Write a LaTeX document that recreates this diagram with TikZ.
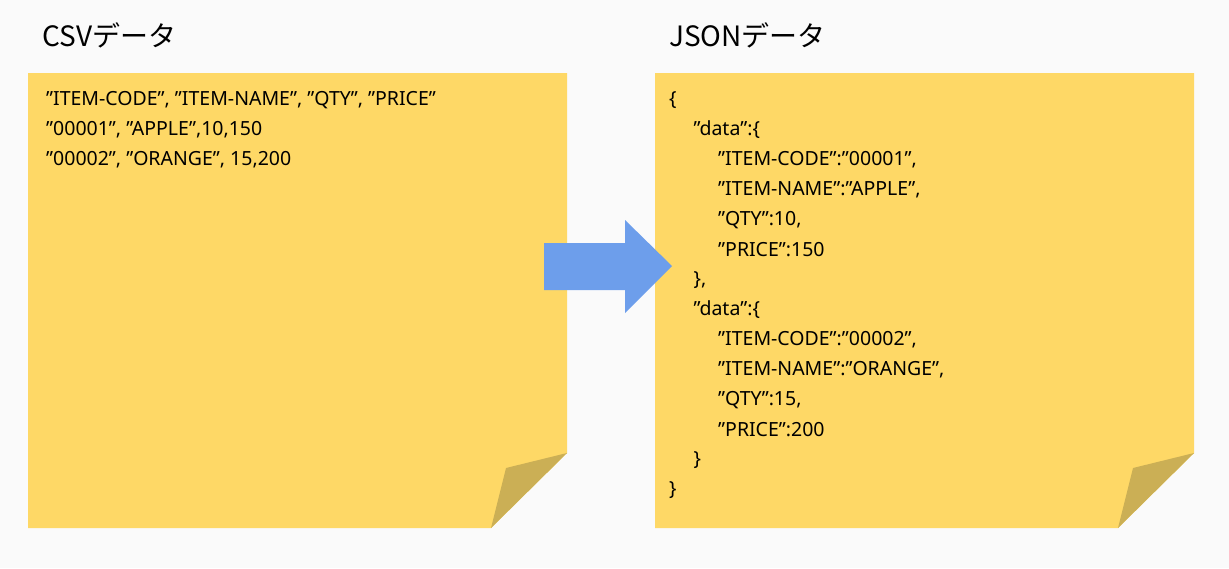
\documentclass[tikz,border=0pt]{standalone}
\usepackage{fontspec}
\setmainfont{Noto Sans}
\newfontfamily\cjk{Noto Sans CJK JP}
\definecolor{bgc}{HTML}{FAFAFA}
\definecolor{notec}{HTML}{FED866}
\definecolor{foldc}{HTML}{CBAF55}
\definecolor{arrc}{HTML}{6D9EEB}
\tikzset{
  note/.style={fill=notec,draw=none},
  fold/.style={fill=foldc,draw=none},
  title/.style={anchor=west,font=\cjk\fontsize{28}{30}\selectfont,inner sep=0pt},
  line/.style={anchor=west,font=\fontsize{19.5}{24}\selectfont,inner sep=0pt}
}
\begin{document}
\begin{tikzpicture}[x=1pt,y=-1pt]
  \fill[bgc] (0,0) rectangle (1229,568);
  \useasboundingbox (0,0) rectangle (1229,568);

  % csv note
  \fill[note] (28,73) -- (567,73) -- (567,453) -- (491,528) -- (28,528) -- cycle;
  \fill[fold] (567,453) -- (506,468) -- (491,528) -- cycle;
  \node[title] (csvt) at (42,35) {CSVデータ};
  \node[line] (c1) at (46,100) {"ITEM-CODE", "ITEM-NAME", "QTY", "PRICE"};
  \node[line] (c2) at (46,130) {"00001", "APPLE",10,150};
  \node[line] (c3) at (46,160) {"00002", "ORANGE", 15,200};

  % json note
  \fill[note] (655,73) -- (1194,73) -- (1194,453) -- (1118,528) -- (655,528) -- cycle;
  \fill[fold] (1194,453) -- (1133,468) -- (1118,528) -- cycle;
  \node[title] (jsont) at (669,35) {JSONデータ};
  \foreach \t/\k [count=\i] in {
      {\{}/0, {"data":\{}/1, {"ITEM-CODE":"00001",}/2, {"ITEM-NAME":"APPLE",}/2,
      {"QTY":10,}/2, {"PRICE":150}/2, {\},}/1, {"data":\{}/1,
      {"ITEM-CODE":"00002",}/2, {"ITEM-NAME":"ORANGE",}/2, {"QTY":15,}/2,
      {"PRICE":200}/2, {\}}/1, {\}}/0} {
    \node[line] (j\i) at (669+24.5*\k,70+30*\i) {\t};
  }

  % arrow
  \fill[arrc] (544,243) -- (625,243) -- (625,220) -- (672,266)
    -- (625,313) -- (625,290) -- (544,290) -- cycle;
\end{tikzpicture}
\end{document}
